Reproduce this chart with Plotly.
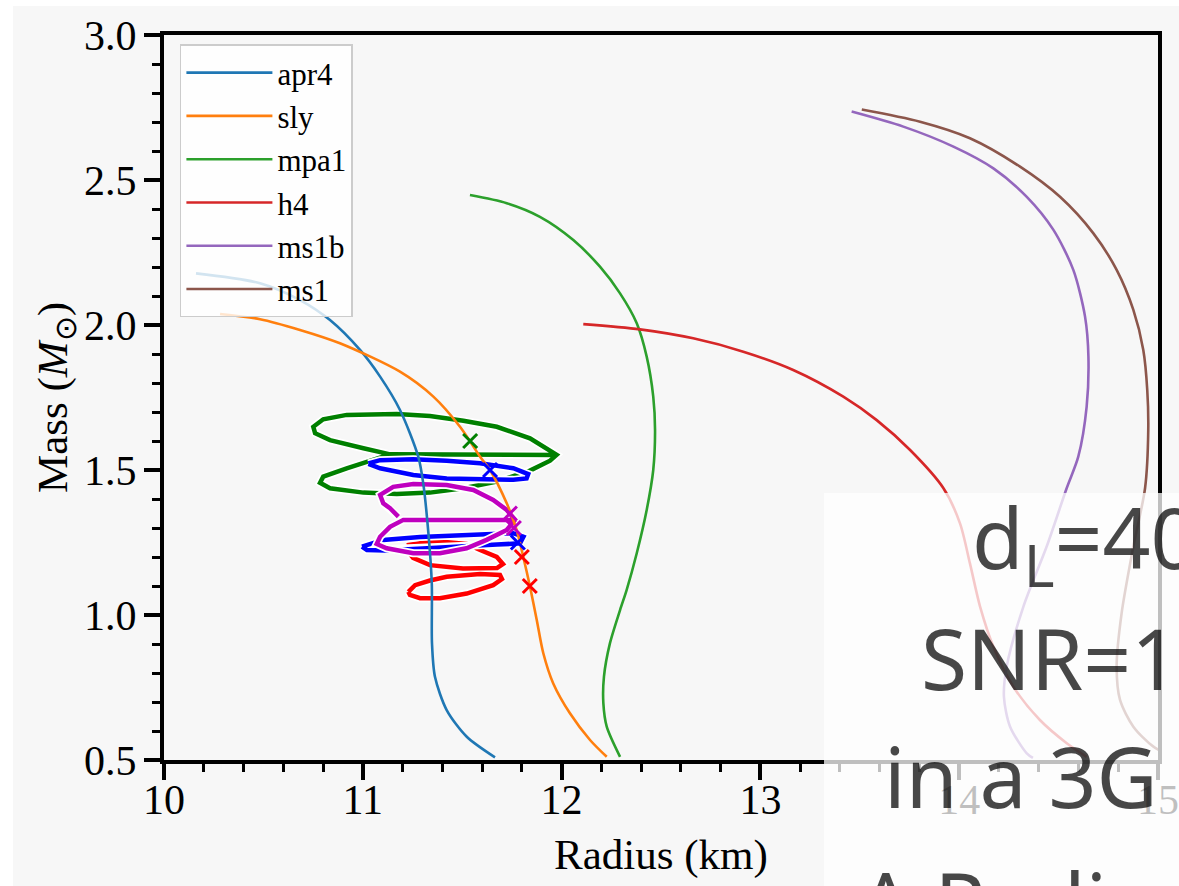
import plotly.graph_objects as go

# ---------------- data (Radius in km, Mass in solar masses) ----------------
apr4_R = [10.161, 10.483, 10.684, 10.835, 10.986, 11.087, 11.187, 11.279, 11.304, 11.330, 11.347, 11.348, 11.363, 11.422, 11.523, 11.665]
apr4_M = [2.178, 2.144, 2.086, 2.017, 1.914, 1.822, 1.707, 1.546, 1.454, 1.282, 1.109, 0.903, 0.787, 0.672, 0.580, 0.509]

sly_R = [10.282, 10.483, 10.684, 10.885, 11.187, 11.355, 11.489, 11.590, 11.640, 11.724, 11.774, 11.807, 11.841, 11.875, 11.908, 11.958, 12.042, 12.143, 12.227]
sly_M = [2.038, 2.020, 1.983, 1.937, 1.839, 1.753, 1.649, 1.546, 1.500, 1.385, 1.293, 1.201, 1.098, 0.983, 0.868, 0.764, 0.661, 0.569, 0.511]

mpa1_R = [11.539, 11.724, 11.891, 12.059, 12.193, 12.294, 12.378, 12.428, 12.461, 12.470, 12.461, 12.428, 12.378, 12.327, 12.294, 12.243, 12.213, 12.210, 12.227, 12.294]
mpa1_M = [2.448, 2.420, 2.373, 2.293, 2.201, 2.109, 2.006, 1.891, 1.753, 1.638, 1.500, 1.362, 1.213, 1.086, 1.017, 0.902, 0.787, 0.696, 0.615, 0.511]

h4_R = [12.109, 12.394, 12.662, 12.914, 13.165, 13.417, 13.585, 13.753, 13.920, 14.004, 14.054, 14.105, 14.172, 14.272, 14.406, 14.541, 14.641]
h4_M = [2.003, 1.985, 1.954, 1.908, 1.845, 1.753, 1.672, 1.569, 1.438, 1.316, 1.178, 1.029, 0.891, 0.753, 0.638, 0.558, 0.511]

ms1b_R = [13.459, 13.719, 13.971, 14.172, 14.340, 14.474, 14.574, 14.633, 14.650, 14.641, 14.599, 14.541, 14.440, 14.323, 14.239, 14.225, 14.256, 14.340, 14.371]
ms1b_M = [2.736, 2.684, 2.615, 2.540, 2.442, 2.328, 2.190, 2.029, 1.891, 1.718, 1.546, 1.438, 1.236, 1.029, 0.822, 0.718, 0.615, 0.523, 0.507]

ms1_R = [13.510, 13.803, 14.054, 14.306, 14.507, 14.675, 14.792, 14.876, 14.926, 14.946, 14.951, 14.935, 14.876, 14.817, 14.792, 14.809, 14.876, 14.977, 15.086]
ms1_M = [2.743, 2.701, 2.644, 2.546, 2.442, 2.316, 2.190, 2.052, 1.914, 1.776, 1.638, 1.438, 1.236, 1.006, 0.822, 0.707, 0.615, 0.546, 0.507]

# credible contours
red_R = [11.221, 11.313, 11.413, 11.523, 11.590, 11.674, 11.705, 11.675, 11.504, 11.338, 11.253, 11.221, 11.221, None,
         11.229, 11.263, 11.338, 11.422, 11.590, 11.690, 11.700, 11.656, 11.523, 11.388, 11.288, 11.237, 11.229]
red_M = [1.241, 1.250, 1.252, 1.245, 1.224, 1.200, 1.176, 1.162, 1.160, 1.172, 1.197, 1.224, 1.241, None,
         1.080, 1.103, 1.119, 1.132, 1.141, 1.138, 1.124, 1.103, 1.074, 1.058, 1.058, 1.069, 1.080]

green_R = [11.975, 11.137, 11.003, 10.835, 10.760, 10.751, 10.801, 10.919, 11.171, 11.338, 11.506, 11.674, 11.841, 11.975,
           11.942, 11.841, 11.674, 11.506, 11.338, 11.171, 11.003, 10.835, 10.785, 10.801, 10.919, 11.028, 11.137]
green_M = [1.552, 1.554, 1.575, 1.603, 1.627, 1.649, 1.675, 1.690, 1.693, 1.686, 1.670, 1.649, 1.609, 1.552,
           1.532, 1.498, 1.460, 1.437, 1.422, 1.417, 1.422, 1.437, 1.456, 1.477, 1.506, 1.529, 1.554]

blue_R = [11.028, 11.087, 11.254, 11.422, 11.590, 11.757, 11.832, 11.824, 11.757, 11.590, 11.422, 11.254, 11.087, 11.028, None,
          10.996, 11.102, 11.288, 11.489, 11.665, 11.756, 11.808, 11.791, 11.675, 11.489, 11.288, 11.112, 11.021, 10.996]
blue_M = [1.523, 1.534, 1.537, 1.532, 1.523, 1.506, 1.486, 1.471, 1.466, 1.468, 1.471, 1.483, 1.506, 1.521, None,
          1.236, 1.259, 1.269, 1.276, 1.279, 1.282, 1.270, 1.247, 1.243, 1.236, 1.229, 1.222, 1.224, 1.236]

magenta_R = [11.179, 11.137, 11.103, 11.087, 11.153, 11.254, 11.422, 11.556, 11.656, 11.724, 11.766, 11.204, 11.137, 11.087,
             11.070, 11.120, 11.254, 11.388, 11.522, 11.623, 11.724, 11.766]
magenta_M = [1.339, 1.368, 1.385, 1.414, 1.442, 1.452, 1.448, 1.431, 1.397, 1.362, 1.328, 1.328, 1.304, 1.270,
             1.245, 1.230, 1.213, 1.213, 1.230, 1.259, 1.293, 1.328]

# injected values
inj_green_R, inj_green_M = [11.54], [1.60]
inj_blue_R, inj_blue_M = [11.64, 11.78], [1.50, 1.25]
inj_magenta_R, inj_magenta_M = [11.74, 11.76], [1.35, 1.30]
inj_red_R, inj_red_M = [11.80, 11.84], [1.20, 1.10]

eos_names = ["apr4", "sly", "mpa1", "h4", "ms1b", "ms1"]
eos_R = [apr4_R, sly_R, mpa1_R, h4_R, ms1b_R, ms1_R]
eos_M = [apr4_M, sly_M, mpa1_M, h4_M, ms1b_M, ms1_M]
eos_colors = ["#1f77b4", "#ff7f0e", "#2ca02c", "#d62728", "#9467bd", "#8c564b"]

x_ticks = [10, 11, 12, 13, 14, 15]
y_ticks = [0.5, 1.0, 1.5, 2.0, 2.5, 3.0]

overlay_lines = ["d<sub>L</sub>=40", "SNR=1", "in a 3G", "A Radius"]

# ---------------- figure ----------------
fig = go.Figure()

contours = [(red_R, red_M, "#ff0000"), (green_R, green_M, "#008000"),
            (blue_R, blue_M, "#0000ff"), (magenta_R, magenta_M, "#bf00bf")]
for R, M, c in contours:
    fig.add_trace(go.Scatter(x=R, y=M, mode="lines", line=dict(color="white", width=8),
                             showlegend=False, hoverinfo="skip"))
    fig.add_trace(go.Scatter(x=R, y=M, mode="lines", line=dict(color=c, width=4.5),
                             showlegend=False, hoverinfo="skip"))

for name, R, M, c in zip(eos_names, eos_R, eos_M, eos_colors):
    fig.add_trace(go.Scatter(x=R, y=M, mode="lines", name=name, legendgroup=name,
                             line=dict(color=c, width=2.6, shape="spline", smoothing=0.8)))

for R, M, c in [(inj_green_R, inj_green_M, "#008000"), (inj_blue_R, inj_blue_M, "#0000ff"),
                (inj_magenta_R, inj_magenta_M, "#bf00bf"), (inj_red_R, inj_red_M, "#ff0000")]:
    fig.add_trace(go.Scatter(x=R, y=M, mode="markers", showlegend=False,
                             marker=dict(symbol="x-thin", size=14, line=dict(color=c, width=3))))

serif = "Liberation Serif"
axis_common = dict(showgrid=False, zeroline=False, showline=True, linecolor="black", linewidth=4,
                   mirror=True, ticks="outside", ticklen=16, tickwidth=3.5, tickcolor="black",
                   automargin=False,
                   tickfont=dict(family=serif, size=42, color="black"))

fig.update_xaxes(range=[10, 15], tickvals=x_ticks, ticktext=[str(t) for t in x_ticks],
                 minor=dict(dtick=0.2, ticklen=8, tickwidth=3, ticks="outside", tickcolor="black"),
                 title=dict(text="Radius (km)", font=dict(family=serif, size=43, color="black"), standoff=17),
                 ticklabelstandoff=-16, **axis_common)
fig.update_yaxes(range=[0.5, 3.0], tickvals=y_ticks, ticktext=["%.1f" % t for t in y_ticks],
                 minor=dict(dtick=0.1, ticklen=8, tickwidth=3, ticks="outside", tickcolor="black"),
                 title=dict(text="Mass (<i>M</i><sub>⊙</sub>)", font=dict(family=serif, size=43, color="black"), standoff=4),
                 ticklabelstandoff=-1, **axis_common)

shapes = [
    dict(type="rect", xref="paper", yref="paper", x0=-0.152, x1=1.1, y0=-0.3, y1=1.04,
         fillcolor="#f7f7f7", line=dict(width=0), layer="below"),
    dict(type="rect", xref="paper", yref="paper", x0=0.664, x1=1.1, y0=-0.3, y1=0.3683,
         fillcolor="rgba(255,255,255,0.75)", line=dict(width=0), layer="above"),
]

ann_x = [0.811, 0.760, 0.722, 0.697]
ann_y = [0.302, 0.141, -0.022, -0.195]
annotations = [dict(text=t, xref="paper", yref="paper", x=x, y=y, xanchor="left", yanchor="middle",
                    showarrow=False, font=dict(family="Noto Sans", size=84, color="rgba(0,0,0,0.72)"))
               for t, x, y in zip(overlay_lines, ann_x, ann_y)]

fig.update_layout(
    width=1179, height=886,
    margin=dict(l=164, r=21, t=35, b=126, autoexpand=False),
    paper_bgcolor="white", plot_bgcolor="#f7f7f7",
    shapes=shapes, annotations=annotations,
    legend=dict(x=0.016, y=0.987, xanchor="left", yanchor="top",
                bgcolor="rgba(255,255,255,0.8)", bordercolor="#cccccc", borderwidth=1.5,
                itemwidth=86,
                font=dict(family=serif, size=31, color="black"), tracegroupgap=0),
    showlegend=True,
)

fig.write_html("out.html")
